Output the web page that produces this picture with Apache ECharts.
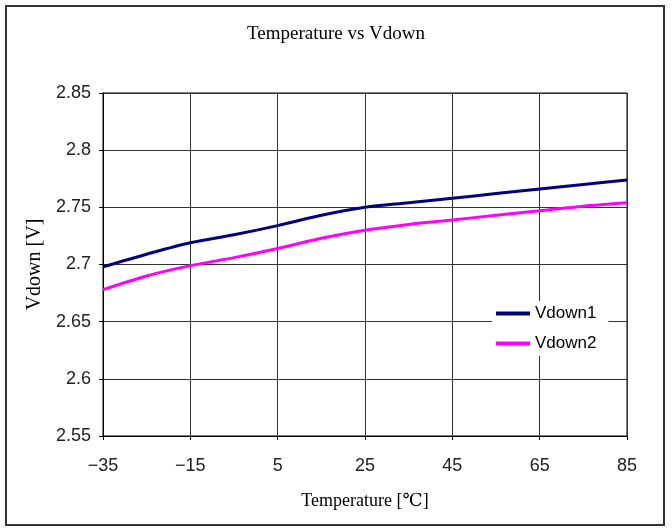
<!DOCTYPE html>
<html>
<head>
<meta charset="utf-8">
<script src="https://cdn.jsdelivr.net/npm/echarts@6/dist/echarts.min.js"></script>
<style>html,body{margin:0;padding:0;background:#fff;}#c{width:672px;height:528px;}</style>
</head>
<body>
<div id="c"></div>
<script>
const temperatures = ['\u221235','\u221225','\u221215','\u22125','5','15','25','35','45','55','65','75','85'];
const vdown1 = [2.698, 2.709, 2.719, 2.726, 2.734, 2.743, 2.750, 2.754, 2.758, 2.762, 2.766, 2.770, 2.774];
const vdown2 = [2.678, 2.690, 2.699, 2.706, 2.714, 2.723, 2.730, 2.735, 2.739, 2.743, 2.747, 2.751, 2.754];
const yMin = 2.55, yMax = 2.85, yStep = 0.05;

const chart = echarts.init(document.getElementById('c'));
const serif = '"Liberation Serif", "DejaVu Serif", serif';
const sans = '"Liberation Sans", Arial, sans-serif';
chart.setOption({
  animation: false,
  backgroundColor: '#fff',
  title: {
    text: 'Temperature vs Vdown', left: 'center', top: 20,
    textStyle: {fontFamily: serif, fontSize: 19, fontWeight: 'normal', color: '#000'}
  },
  graphic: [{
    type: 'rect', shape: {x: 6, y: 6, width: 658, height: 519},
    style: {fill: 'none', stroke: '#333', lineWidth: 2}, silent: true, z: -1
  }],
  legend: {
    orient: 'vertical', left: 492, top: 301,
    itemWidth: 34, itemHeight: 4, itemGap: 13,
    backgroundColor: '#fff', padding: [4, 12, 4, 4],
    textStyle: {fontFamily: sans, fontSize: 17, color: '#000'},
    icon: 'rect',
    data: ['Vdown1', 'Vdown2']
  },
  grid: {left: 103, top: 93, width: 524, height: 343, show: true, borderColor: '#000', borderWidth: 1},
  xAxis: {
    type: 'category', data: temperatures, boundaryGap: false,
    name: 'Temperature [\u2103]', nameLocation: 'middle', nameGap: 56,
    nameTextStyle: {fontFamily: serif, fontSize: 18, color: '#000'},
    axisLine: {lineStyle: {color: '#000', width: 1}},
    axisTick: {show: true, interval: 1, length: 4, lineStyle: {color: '#000'}},
    axisLabel: {interval: 1, margin: 21, fontFamily: sans, fontSize: 18, color: '#222'},
    splitLine: {show: true, interval: 1, lineStyle: {color: '#333', width: 1}}
  },
  yAxis: {
    type: 'value', min: yMin, max: yMax, interval: yStep,
    name: 'Vdown [V]', nameLocation: 'middle', nameGap: 56, nameRotate: 90,
    nameTextStyle: {fontFamily: serif, fontSize: 20, color: '#000'},
    axisLine: {show: true, lineStyle: {color: '#000', width: 1}},
    axisTick: {show: true, length: 4, lineStyle: {color: '#000'}},
    axisLabel: {margin: 12, fontFamily: sans, fontSize: 18, color: '#222',
      formatter: v => String(+v.toFixed(2))},
    splitLine: {show: true, lineStyle: {color: '#333', width: 1}}
  },
  series: [
    {name: 'Vdown1', type: 'line', data: vdown1, smooth: 0.3, showSymbol: false,
     lineStyle: {color: '#000080', width: 3}, itemStyle: {color: '#000080'}},
    {name: 'Vdown2', type: 'line', data: vdown2, smooth: 0.3, showSymbol: false,
     lineStyle: {color: '#ff00ff', width: 3}, itemStyle: {color: '#ff00ff'}}
  ]
});
</script>
</body>
</html>
